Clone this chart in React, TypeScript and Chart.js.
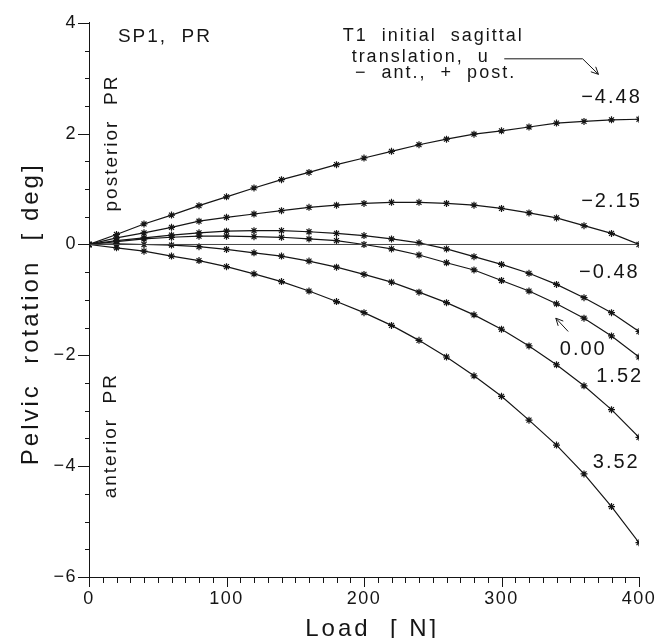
import React, { useEffect, useRef } from "react";
import { Chart, registerables } from "chart.js";

Chart.register(...registerables);

// Load [N]
const loads = [0, 20, 40, 60, 80, 100, 120, 140, 160, 180, 200, 220, 240, 260, 280, 300, 320, 340, 360, 380, 400];

// Pelvic rotation [deg] for each T1 initial sagittal translation u
const rotUm448 = [0, 0.18, 0.37, 0.53, 0.7, 0.86, 1.02, 1.17, 1.3, 1.44, 1.56, 1.68, 1.8, 1.9, 1.99, 2.05, 2.12, 2.19, 2.22, 2.25, 2.26];
const rotUm215 = [0, 0.12, 0.21, 0.31, 0.42, 0.49, 0.55, 0.61, 0.67, 0.71, 0.74, 0.76, 0.76, 0.74, 0.71, 0.65, 0.57, 0.48, 0.34, 0.2, 0.0];
const rotUm048 = [0, 0.07, 0.12, 0.17, 0.21, 0.24, 0.25, 0.25, 0.23, 0.2, 0.16, 0.1, 0.03, -0.08, -0.22, -0.36, -0.52, -0.72, -0.96, -1.23, -1.57];
const rotU000 = [0, 0.05, 0.1, 0.13, 0.15, 0.15, 0.14, 0.13, 0.1, 0.07, 0.0, -0.08, -0.19, -0.33, -0.46, -0.65, -0.84, -1.07, -1.33, -1.65, -2.03];
const rotU152 = [0, 0.01, 0.0, -0.01, -0.04, -0.09, -0.15, -0.21, -0.3, -0.41, -0.54, -0.68, -0.86, -1.05, -1.27, -1.53, -1.83, -2.17, -2.55, -2.98, -3.48];
const rotU352 = [0, -0.06, -0.12, -0.21, -0.29, -0.4, -0.53, -0.67, -0.84, -1.03, -1.23, -1.46, -1.73, -2.03, -2.37, -2.74, -3.17, -3.62, -4.14, -4.73, -5.38];

const seriesValues = [rotUm448, rotUm215, rotUm048, rotU000, rotU152, rotU352];
const seriesNames = ["\u22124.48", "\u22122.15", "\u22120.48", "0.00", "1.52", "3.52"];

// Axis ticks
const xTickValues = [0, 100, 200, 300, 400];
const yTickValues = [-6, -4, -2, 0, 2, 4];
const xMin = 0, xMax = 400, yMin = -6, yMax = 4;

// Text notes placed in data coordinates
const notes = [
  { text: "SP1,  PR", x: 21, y: 3.75, align: "left", rot: false, size: 19 },
  { text: "posterior  PR", x: 16.5, y: 1.83, align: "center", rot: true, size: 19 },
  { text: "anterior  PR", x: 16, y: -3.45, align: "center", rot: true, size: 19 },
  { text: "T1  initial  sagittal", x: 184.5, y: 3.77, align: "left", rot: false, size: 18 },
  { text: "translation,  u", x: 191, y: 3.38, align: "left", rot: false, size: 18 },
  { text: "\u2212  ant.,  +  post.", x: 193.5, y: 3.1, align: "left", rot: false, size: 18 },
  { text: seriesNames[0], x: 402, y: 2.65, align: "right", rot: false, size: 20 },
  { text: seriesNames[1], x: 402, y: 0.78, align: "right", rot: false, size: 20 },
  { text: seriesNames[2], x: 400.5, y: -0.5, align: "right", rot: false, size: 20 },
  { text: seriesNames[3], x: 376.5, y: -1.89, align: "right", rot: false, size: 20 },
  { text: seriesNames[4], x: 403, y: -2.38, align: "right", rot: false, size: 20 },
  { text: seriesNames[5], x: 400.5, y: -3.93, align: "right", rot: false, size: 20 },
];

const FONT = "'Liberation Sans', Arial, sans-serif";
const INK = "#151515";

const spacingPlugin = {
  id: "spacing",
  beforeDraw(chart: any) {
    (chart.ctx as any).letterSpacing = "1.5px";
  },
};

const decorPlugin = {
  id: "decor",
  afterDraw(chart: any) {
    const { ctx, chartArea, scales } = chart;
    const xs = scales.x;
    const ys = scales.y;
    const L = chartArea.left;
    const B = chartArea.bottom;
    ctx.save();
    ctx.strokeStyle = INK;
    ctx.lineWidth = 1;
    // y ticks (major + minor)
    for (let i = 0; i <= (yMax - yMin) * 2; i++) {
      const v = yMin + i * 0.5;
      const major = yTickValues.indexOf(v) >= 0;
      const py = Math.round(ys.getPixelForValue(v)) + 0.5;
      ctx.beginPath();
      ctx.moveTo(L - (major ? 11 : 4), py);
      ctx.lineTo(L + 1, py);
      ctx.stroke();
    }
    // x ticks (major + minor)
    for (let i = 0; i <= (xMax - xMin) / 10; i++) {
      const v = xMin + i * 10;
      const major = xTickValues.indexOf(v) >= 0;
      const px = Math.round(xs.getPixelForValue(v)) + 0.5;
      ctx.beginPath();
      ctx.moveTo(px, B);
      ctx.lineTo(px, B + (major ? 10 : 6));
      ctx.stroke();
    }
    // text notes
    ctx.fillStyle = INK;
    for (const n of notes) {
      const px = xs.getPixelForValue(n.x);
      const py = ys.getPixelForValue(n.y);
      ctx.save();
      ctx.font = `${n.size}px ${FONT}`;
      (ctx as any).letterSpacing = "2px";
      ctx.textBaseline = "middle";
      ctx.translate(px, py);
      if (n.rot) ctx.rotate(-Math.PI / 2);
      ctx.textAlign = n.align as CanvasTextAlign;
      ctx.fillText(n.text, 0, 0);
      ctx.restore();
    }
    // arrow from "u" to the top curve label
    const a1 = [xs.getPixelForValue(302), ys.getPixelForValue(3.35)];
    const a2 = [xs.getPixelForValue(359), ys.getPixelForValue(3.35)];
    const a3 = [xs.getPixelForValue(370.5), ys.getPixelForValue(3.07)];
    ctx.beginPath();
    ctx.moveTo(a1[0], a1[1]);
    ctx.lineTo(a2[0], a2[1]);
    ctx.lineTo(a3[0], a3[1]);
    ctx.stroke();
    const drawHead = (fx: number, fy: number, tx: number, ty: number) => {
      const ang = Math.atan2(ty - fy, tx - fx);
      const len = 8;
      ctx.beginPath();
      ctx.moveTo(tx - len * Math.cos(ang - 0.45), ty - len * Math.sin(ang - 0.45));
      ctx.lineTo(tx, ty);
      ctx.lineTo(tx - len * Math.cos(ang + 0.45), ty - len * Math.sin(ang + 0.45));
      ctx.stroke();
    };
    drawHead(a2[0], a2[1], a3[0], a3[1]);
    // small arrow toward the 0.00 curve
    const b1 = [xs.getPixelForValue(348.5), ys.getPixelForValue(-1.57)];
    const b2 = [xs.getPixelForValue(339.5), ys.getPixelForValue(-1.33)];
    ctx.beginPath();
    ctx.moveTo(b1[0], b1[1]);
    ctx.lineTo(b2[0], b2[1]);
    ctx.stroke();
    drawHead(b1[0], b1[1], b2[0], b2[1]);
    // axis titles
    ctx.font = `24px ${FONT}`;
    ctx.textAlign = "center";
    ctx.textBaseline = "alphabetic";
    (ctx as any).letterSpacing = "3px";
    ctx.fillText("Load  [ N]", xs.getPixelForValue(206), 636);
    ctx.save();
    ctx.translate(31, ys.getPixelForValue(-1.25));
    ctx.rotate(-Math.PI / 2);
    ctx.textBaseline = "middle";
    ctx.fillText("Pelvic  rotation  [ deg]", 0, 0);
    ctx.restore();
    ctx.restore();
    (ctx as any).letterSpacing = "0px";
  },
};

export default function App() {
  const ref = useRef<HTMLCanvasElement | null>(null);
  useEffect(() => {
    if (!ref.current) return;
    const datasets: any[] = [
      {
        label: "zero",
        data: [
          { x: xMin, y: 0 },
          { x: xMax, y: 0 },
        ],
        borderColor: "#444",
        borderWidth: 1,
        pointRadius: 0,
      },
    ];
    seriesValues.forEach((vals, i) => {
      datasets.push({
        label: seriesNames[i],
        data: loads.map((l, j) => ({ x: l, y: vals[j] })),
        borderColor: INK,
        backgroundColor: INK,
        borderWidth: 1.2,
        pointStyle: "star",
        pointRadius: 3.5,
        pointBorderColor: INK,
        pointBorderWidth: 1.2,
        tension: 0,
      });
    });
    const chart = new Chart(ref.current, {
      type: "line",
      data: { datasets },
      options: {
        animation: false,
        responsive: false,
        events: [],
        layout: { padding: { left: 0, top: 15, right: 30, bottom: 0 } },
        plugins: { legend: { display: false }, tooltip: { enabled: false }, title: { display: false } },
        scales: {
          x: {
            type: "linear",
            min: xMin,
            max: xMax,
            afterBuildTicks: (s: any) => {
              s.ticks = xTickValues.map((v) => ({ value: v }));
            },
            afterFit: (s: any) => {
              s.height = 61;
            },
            grid: { display: false, drawTicks: false },
            border: { display: true, color: INK, width: 1 },
            ticks: {
              padding: 11,
              color: INK,
              font: { family: FONT, size: 18 },
              maxRotation: 0,
              callback: (v: any) => String(v),
            },
          },
          y: {
            type: "linear",
            min: yMin,
            max: yMax,
            afterBuildTicks: (s: any) => {
              s.ticks = yTickValues.map((v) => ({ value: v }));
            },
            afterFit: (s: any) => {
              s.width = 89;
            },
            grid: { display: false, drawTicks: false },
            border: { display: true, color: INK, width: 1 },
            ticks: {
              padding: 12,
              color: INK,
              font: { family: FONT, size: 18 },
              callback: (v: any) => (v < 0 ? "\u2212" + Math.abs(v) : String(v)),
            },
          },
        },
      },
      plugins: [spacingPlugin, decorPlugin],
    });
    return () => chart.destroy();
  }, []);
  return (
    <div style={{ position: "fixed", left: 0, top: 0, width: 669, height: 638, background: "#fff" }}>
      <canvas ref={ref} width={669} height={638} style={{ width: 669, height: 638, display: "block" }} />
    </div>
  );
}
